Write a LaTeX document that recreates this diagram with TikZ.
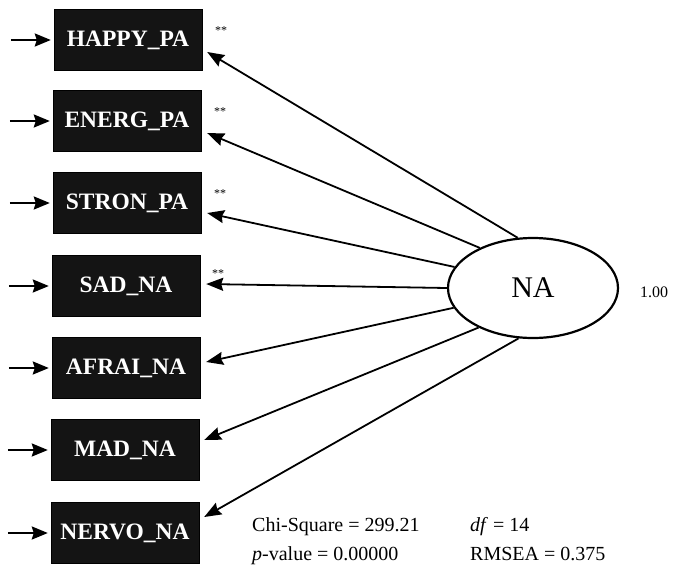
\documentclass[tikz,border=0pt]{standalone}
\usepackage{fontspec}
\setmainfont{Liberation Serif}
\usetikzlibrary{arrows.meta,calc,shapes.geometric}
\begin{document}
\begin{tikzpicture}[x=1pt,y=-1pt,
  obs/.style={fill=black!92,draw=black,minimum width=148pt,minimum height=61pt,inner sep=0pt,
    text=white,font=\fontsize{23.5}{25}\selectfont\bfseries},
  lat/.style={ellipse,draw,line width=2.2pt,minimum width=170pt,minimum height=100pt,inner sep=0pt,
    font=\fontsize{30}{32}\selectfont},
  inarrow/.style={line width=2.2pt,-{Stealth[length=16pt,width=13pt,inset=2pt]}},
  load/.style={line width=1.8pt,-{Stealth[length=17pt,width=13pt,inset=2pt]}},
  star/.style={font=\fontsize{12}{12}\selectfont,anchor=center},
  stat/.style={font=\fontsize{20}{22}\selectfont,anchor=base west,inner sep=0pt}]
\useasboundingbox (0,0) rectangle (673,566);
\node[obs] (HAPPY) at (128,40) {HAPPY\_PA};
\node[obs] (ENERG) at (127,121) {ENERG\_PA};
\node[obs] (STRON) at (127,203) {STRON\_PA};
\node[obs] (SAD) at (126,286) {SAD\_NA};
\node[obs] (AFRAI) at (126,368) {AFRAI\_NA};
\node[obs] (MAD) at (125,450) {MAD\_NA};
\node[obs] (NERVO) at (125,533) {NERVO\_NA};
\node[lat] (NA) at (533,288) {NA};
\node[font=\fontsize{16}{18}\selectfont,anchor=west,inner sep=0pt] (var) at (640,292) {1.00};
\node[star] (s1) at (221,31) {**};
\node[star] (s2) at (220,112) {**};
\node[star] (s3) at (220,194) {**};
\node[star] (s4) at (218,274) {**};
% error arrows
\foreach \n in {HAPPY,ENERG,STRON,SAD,AFRAI,MAD,NERVO}{
  \coordinate (e\n) at ($(\n.west)+(-43,0)$);
  \draw[inarrow] (e\n) -- ([xshift=-3pt]\n.west);
}
% loadings
\coordinate (tHAPPY) at ($(HAPPY.east)+(5,12)$);
\coordinate (tENERG) at ($(ENERG.east)+(6,12)$);
\coordinate (tSTRON) at ($(STRON.east)+(6,10)$);
\coordinate (tSAD) at ($(SAD.east)+(6,-2)$);
\coordinate (tAFRAI) at ($(AFRAI.east)+(6,-6)$);
\coordinate (tMAD) at ($(MAD.east)+(5,-10)$);
\coordinate (tNERVO) at ($(NERVO.east)+(5,-16)$);
\draw[load] (NA.107) -- (tHAPPY);
\draw[load] (NA.143) -- (tENERG);
\draw[load] (NA.165) -- (tSTRON);
\draw[load] (NA.180) -- (tSAD);
\draw[load] (NA.194) -- (tAFRAI);
\draw[load] (NA.216) -- (tMAD);
\draw[load] (NA.254) -- (tNERVO);
% fit statistics
\node[stat] (chi) at (252,531) {Chi-Square = 299.21};
\node[stat] (pv) at (252,560) {\textit{p}-value = 0.00000};
\node[stat] (df) at (470,531) {\textit{df} = 14};
\node[stat] (rm) at (470,560) {RMSEA = 0.375};
\end{tikzpicture}
\end{document}
